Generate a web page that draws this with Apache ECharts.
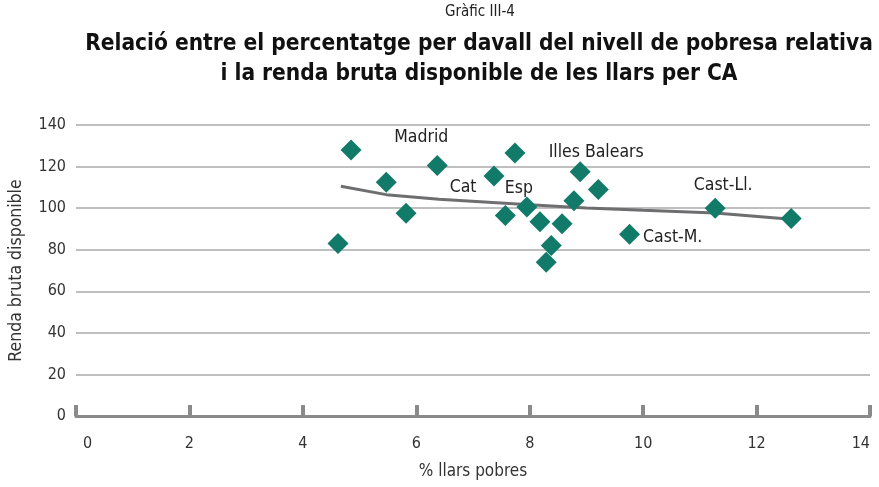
<!DOCTYPE html>
<html>
<head>
<meta charset="utf-8">
<script src="https://cdn.jsdelivr.net/npm/echarts@6/dist/echarts.min.js"></script>
<style>
  html, body { margin: 0; padding: 0; background: #fff; }
  #main { width: 879px; height: 487px; }
</style>
</head>
<body>
<div id="main"></div>
<script>
// dades llegides del gràfic
const pobres = [4.62, 4.85, 5.47, 5.82, 6.37, 7.37, 7.74, 7.57, 7.95, 8.18, 8.38, 8.29, 8.57, 8.78, 8.89, 9.21, 9.76, 11.27, 12.61];
const renda = [83, 128, 112.5, 97.5, 120.5, 115.5, 126.5, 96.5, 100.5, 93.5, 82, 74, 92.5, 103.5, 117.5, 109, 87.5, 100, 95];
const noms = ['', '', '', '', 'Madrid', 'Cat', '', '', 'Esp', '', '', '', '', '', 'Illes Balears', '', 'Cast-M.', 'Cast-Ll.', ''];
// línia de tendència
const tendX = [4.67, 5.47, 6.4, 8.0, 9.0, 10.0, 11.27, 12.61];
const tendY = [110.5, 106.5, 104.3, 101.6, 100.1, 99.0, 97.7, 94.6];
const xTicks = [0, 2, 4, 6, 8, 10, 12, 14];

const font = '"DejaVu Sans Condensed", "Liberation Sans Narrow", "Noto Sans", sans-serif';

// posició de les etiquetes (només estil)
const etiqueta = {
  'Madrid': { position: 'top', offset: [-16, -4] },
  'Cat': { position: 'left', offset: [-2, 12] },
  'Esp': { position: 'top', offset: [-8, 6] },
  'Illes Balears': { position: 'top', offset: [16, 5] },
  'Cast-M.': { position: 'right', offset: [-2, 3] },
  'Cast-Ll.': { position: 'top', offset: [8, 2] }
};

const punts = pobres.map(function (x, i) {
  const item = { value: [x, renda[i]], name: noms[i] };
  if (noms[i]) {
    item.label = Object.assign({ show: true, formatter: '{b}' }, etiqueta[noms[i]]);
  }
  return item;
});

const myChart = echarts.init(document.getElementById('main'));
const option = {
  animation: false,
  title: [
    {
      text: 'Gràfic III-4',
      left: 475, top: 0, textAlign: 'center',
      textStyle: { fontFamily: font, fontSize: 15, fontWeight: 'normal', color: '#222' }
    },
    {
      text: 'Relació entre el percentatge per davall del nivell de pobresa relativa\ni la renda bruta disponible de les llars per CA',
      left: 474, top: 24, textAlign: 'center',
      textStyle: { fontFamily: font, fontSize: 22.5, fontWeight: 'bold', color: '#111', lineHeight: 30 }
    }
  ],
  grid: { left: 76, right: 9, top: 125, bottom: 71, containLabel: false, outerBoundsMode: 'none' },
  xAxis: {
    type: 'value',
    min: 0, max: 14, interval: 2,
    name: '% llars pobres',
    nameLocation: 'middle',
    nameGap: 47,
    nameTextStyle: { fontFamily: font, fontSize: 17, color: '#333' },
    axisLine: { show: true, onZero: false, lineStyle: { color: '#8a8a8a', width: 3 } },
    axisTick: { show: true, inside: true, length: 11, lineStyle: { color: '#8a8a8a', width: 4 } },
    axisLabel: {
      fontFamily: font, fontSize: 16, color: '#333', margin: 20,
      alignMinLabel: 'left', alignMaxLabel: 'right',
      formatter: function (v) {
        if (xTicks.indexOf(v) < 0) return '';
        return v === 0 ? '{zero|0}' : String(v);
      },
      rich: { zero: { fontFamily: font, fontSize: 16, color: '#333', padding: [0, 0, 0, 7] } }
    },
    splitLine: { show: false }
  },
  yAxis: {
    type: 'value',
    min: 0, max: 140, interval: 20,
    name: 'Renda bruta disponible',
    nameLocation: 'middle',
    nameGap: 51,
    nameTextStyle: { fontFamily: font, fontSize: 17.5, color: '#333' },
    axisLine: { show: false },
    axisTick: { show: false },
    axisLabel: { fontFamily: font, fontSize: 16, color: '#333', margin: 10 },
    splitLine: { show: true, lineStyle: { color: '#aaaaaa', width: 1.5 } }
  },
  series: [
    {
      type: 'line',
      data: tendX.map(function (x, i) { return [x, tendY[i]]; }),
      showSymbol: false,
      symbol: 'none',
      lineStyle: { color: '#6e6e70', width: 3 },
      z: 2
    },
    {
      type: 'scatter',
      data: punts,
      symbol: 'diamond',
      symbolSize: 21,
      itemStyle: { color: '#127a69', opacity: 1 },
      label: { fontFamily: font, fontSize: 17.5, color: '#222' },
      z: 3
    }
  ]
};
myChart.setOption(option);
window.addEventListener('resize', function () {
  myChart.resize();
});
</script>
</body>
</html>
